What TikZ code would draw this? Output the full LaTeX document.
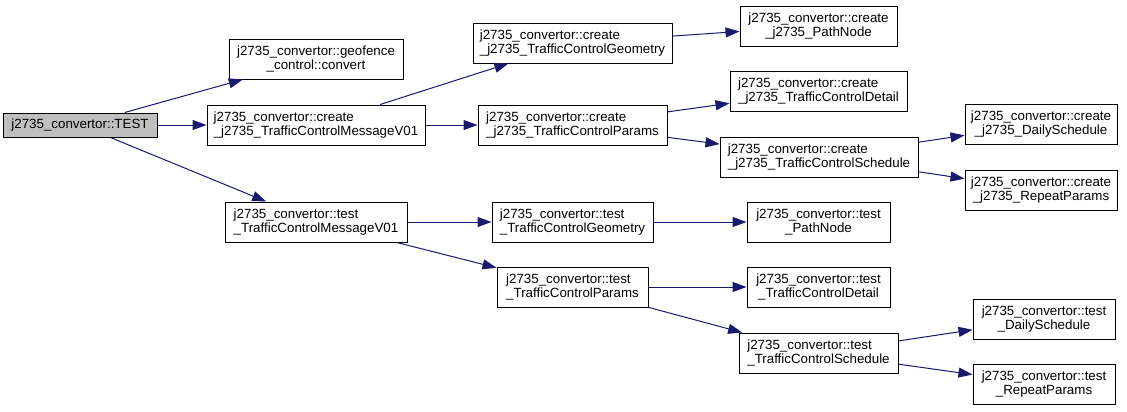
\documentclass[tikz,border=0pt]{standalone}
\usepackage{fontspec}
\setmainfont{Liberation Sans}
\usepackage{tikz}
\usetikzlibrary{arrows.meta}
\definecolor{cgedge}{HTML}{191970}
\definecolor{cgroot}{HTML}{BFBFBF}

\begin{document}
\begin{tikzpicture}[
  x=0.75pt,y=-0.75pt,
  font=\fontsize{10}{10.5}\selectfont,
  fn/.style={draw=black,line width=0.75pt,fill=white,inner sep=2pt,
             align=center,minimum height=30pt},
  lj/.style={align=left},
  wd/.style={minimum width={#1*0.75pt}},
  root/.style={fn,fill=cgroot,minimum height=18pt},
  call/.style={-{Triangle[length=10.5pt,width=7.5pt]},line width=0.75pt,draw=cgedge},
]
\useasboundingbox (0,0) rectangle (1127,411);

\node[root,wd=154] (test) at (80,125) {j2735\_convertor::TEST};

\node[fn,wd=174] (geofence) at (316,59) {j2735\_convertor::geofence\\\_control::convert};
\node[fn,lj,wd=218] (cmsg) at (316,125) {j2735\_convertor::create\\\_j2735\_TrafficControlMessageV01};
\node[fn,lj,wd=182] (tmsg) at (316,222) {j2735\_convertor::test\\\_TrafficControlMessageV01};

\node[fn,lj,wd=199] (cgeom) at (572.5,43) {j2735\_convertor::create\\\_j2735\_TrafficControlGeometry};
\node[fn,lj,wd=189] (cparams) at (572.5,125) {j2735\_convertor::create\\\_j2735\_TrafficControlParams};
\node[fn,lj,wd=161] (tgeom) at (572.5,222) {j2735\_convertor::test\\\_TrafficControlGeometry};
\node[fn,lj,wd=151] (tparams) at (572.5,287) {j2735\_convertor::test\\\_TrafficControlParams};

\node[fn,wd=157] (cpath) at (818.5,26) {j2735\_convertor::create\\\_j2735\_PathNode};
\node[fn,lj,wd=177] (cdetail) at (818.5,91) {j2735\_convertor::create\\\_j2735\_TrafficControlDetail};
\node[fn,lj,wd=198] (csched) at (819,157) {j2735\_convertor::create\\\_j2735\_TrafficControlSchedule};
\node[fn,wd=143] (tpath) at (818.5,222) {j2735\_convertor::test\\\_PathNode};
\node[fn,wd=143] (tdetail) at (818.5,287) {j2735\_convertor::test\\\_TrafficControlDetail};
\node[fn,lj,wd=159] (tsched) at (818.5,353) {j2735\_convertor::test\\\_TrafficControlSchedule};

\node[fn,wd=152] (cdaily) at (1041,124) {j2735\_convertor::create\\\_j2735\_DailySchedule};
\node[fn,wd=152] (crepeat) at (1041,190) {j2735\_convertor::create\\\_j2735\_RepeatParams};
\node[fn,wd=142] (tdaily) at (1044,319) {j2735\_convertor::test\\\_DailySchedule};
\node[fn,wd=142] (trepeat) at (1044,384.5) {j2735\_convertor::test\\\_RepeatParams};

\draw[call] (test) -- (geofence);
\draw[call] (test) -- (cmsg);
\draw[call] (test) -- (tmsg);

\draw[call] (cmsg) -- (cgeom);
\draw[call] (cmsg) -- (cparams);
\draw[call] (tmsg) -- (tgeom);
\draw[call] (tmsg) -- (tparams);

\draw[call] (cgeom) -- (cpath);
\draw[call] (cparams) -- (cdetail);
\draw[call] (cparams) -- (csched);
\draw[call] (tgeom) -- (tpath);
\draw[call] (tparams) -- (tdetail);
\draw[call] (tparams) -- (tsched);

\draw[call] (csched) -- (cdaily);
\draw[call] (csched) -- (crepeat);
\draw[call] (tsched) -- (tdaily);
\draw[call] (tsched) -- (trepeat);

\end{tikzpicture}
\end{document}
